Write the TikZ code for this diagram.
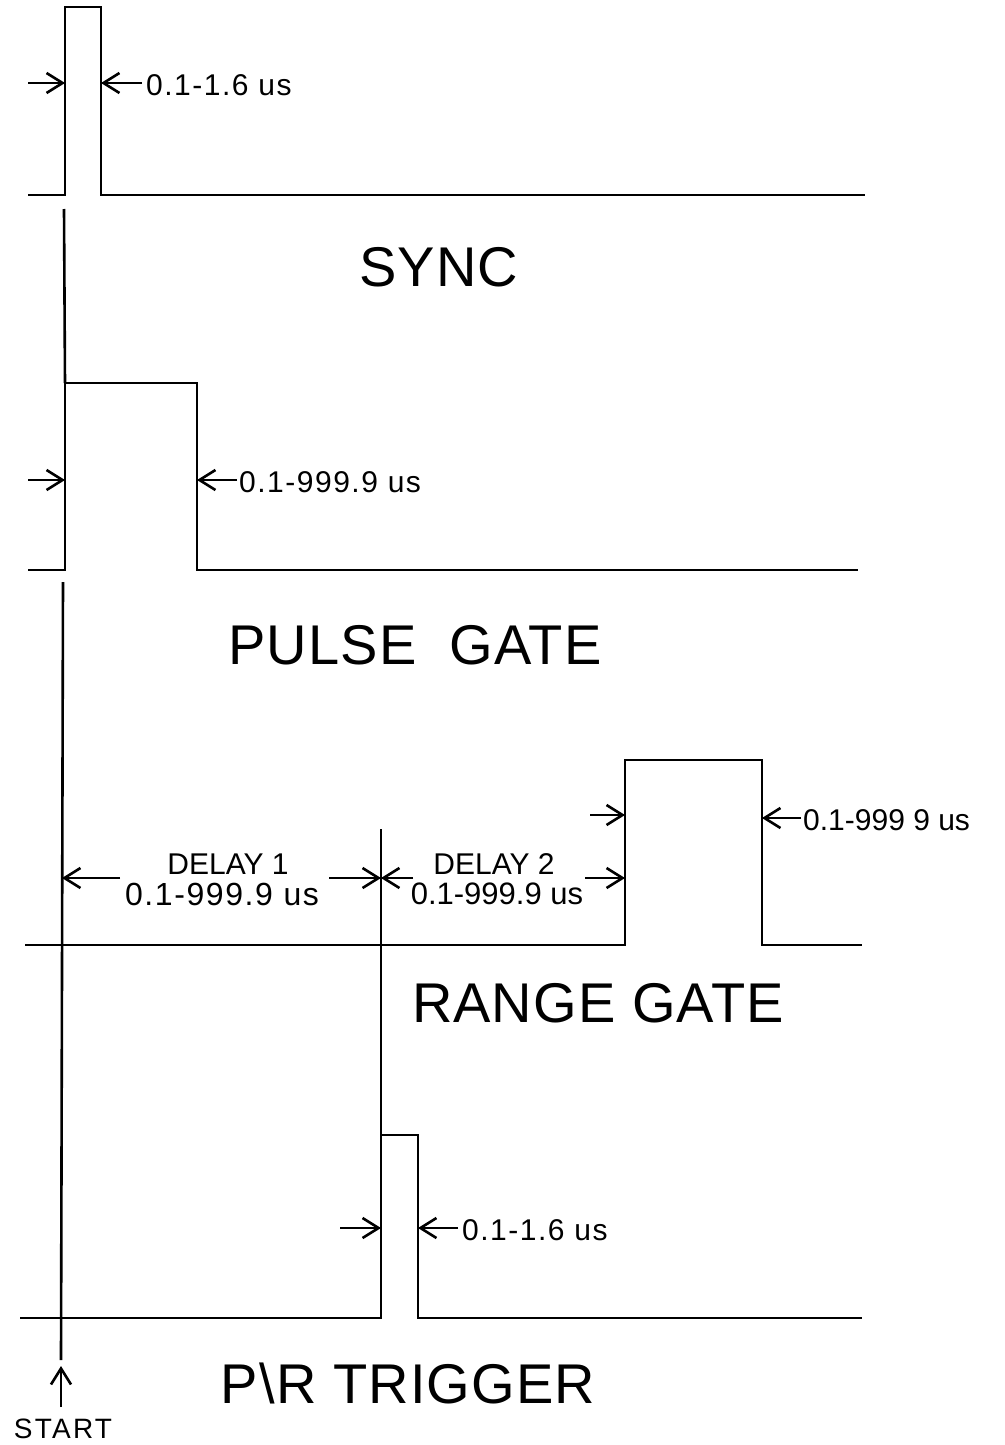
\documentclass[tikz,border=0pt]{standalone}
\usepackage{fontspec}
\setmainfont{Liberation Sans}
\newfontfamily\lblfont[LetterSpace=5]{Liberation Sans}
\newfontfamily\dnumfont[LetterSpace=5]{Liberation Sans}
\newfontfamily\bigfont[LetterSpace=2]{Liberation Sans}
\newfontfamily\startfont[LetterSpace=8]{Liberation Sans}
\usetikzlibrary{arrows.meta}
\begin{document}
\begin{tikzpicture}[x=1pt,y=-1pt,
  wave/.style={line width=2.8pt,line join=miter,line cap=butt},
  marker/.style={line width=2.6pt},
  dim/.style={line width=2.6pt,-{Straight Barb[length=16pt,width=20pt,line width=2.6pt]}},
  small/.style={font=\fontsize{30}{30}\selectfont\lblfont,inner sep=0pt,anchor=west},
  smallns/.style={font=\fontsize{30}{30}\selectfont,inner sep=0pt,anchor=west},
  dly/.style={font=\fontsize{30}{30}\selectfont,inner sep=0pt},
  dnum/.style={font=\fontsize{32}{32}\selectfont\dnumfont,inner sep=0pt},
  dnumns/.style={font=\fontsize{31}{31}\selectfont,inner sep=0pt},
  big/.style={font=\fontsize{56}{56}\selectfont\bigfont,inner sep=0pt},
  startlbl/.style={font=\fontsize{28}{28}\selectfont\startfont,inner sep=0pt}]
\useasboundingbox (0,0) rectangle (1004,1445);
% ---------- SYNC ----------
\coordinate (sL) at (28,195);
\coordinate (sR) at (65,195);
\coordinate (sRt) at (65,7);
\coordinate (sFt) at (101,7);
\coordinate (sF) at (101,195);
\coordinate (sE) at (865,195);
\draw[wave] (sL) -- (sR) -- (sRt) -- (sFt) -- (sF) -- (sE);
\coordinate (sa1) at (28,83);  \coordinate (sa1h) at (65,83);
\coordinate (sa2) at (142,83); \coordinate (sa2h) at (101,83);
\draw[dim] (sa1) -- (sa1h);
\draw[dim] (sa2) -- (sa2h);
\node[small] (synclbl) at (146,85) {0.1-1.6 us};
\node[big] (sync) at (439,267) {SYNC};
% ---------- PULSE GATE ----------
\coordinate (pL) at (28,570);
\coordinate (pR) at (65,570);
\coordinate (pRt) at (65,383);
\coordinate (pFt) at (197,383);
\coordinate (pF) at (197,570);
\coordinate (pE) at (858,570);
\draw[wave] (pL) -- (pR) -- (pRt) -- (pFt) -- (pF) -- (pE);
\coordinate (pa1) at (28,480);  \coordinate (pa1h) at (65,480);
\coordinate (pa2) at (237,480); \coordinate (pa2h) at (197,480);
\draw[dim] (pa1) -- (pa1h);
\draw[dim] (pa2) -- (pa2h);
\node[small] (pglbl) at (239,482) {0.1-999.9 us};
\node[big] (pulse) at (415,645) {PULSE\ \ GATE};
% ---------- START line ----------
\coordinate (st1) at (64,209);
\coordinate (st2) at (63,582);
\coordinate (st3) at (61,1360);
\draw[marker] (st1) -- (pRt);
\draw[marker] (st2) -- (st3);
% ---------- RANGE GATE ----------
\coordinate (rL) at (25,945);
\coordinate (rR) at (625,945);
\coordinate (rRt) at (625,760);
\coordinate (rFt) at (762,760);
\coordinate (rF) at (762,945);
\coordinate (rE) at (862,945);
\draw[wave] (rL) -- (rR) -- (rRt) -- (rFt) -- (rF) -- (rE);
\coordinate (d1s) at (62,878);
\coordinate (d1a) at (120,878);
\coordinate (d1b) at (329,878);
\coordinate (dm) at (381,878);
\coordinate (d2a) at (413,878);
\coordinate (d2b) at (585,878);
\coordinate (d2e) at (625,878);
\draw[dim] (d1a) -- (d1s);
\draw[dim] (d1b) -- (dm);
\draw[dim] (d2a) -- (dm);
\draw[dim] (d2b) -- (d2e);
\coordinate (ra1) at (590,815); \coordinate (ra1h) at (625,815);
\coordinate (ra2) at (801,818); \coordinate (ra2h) at (762,818);
\draw[dim] (ra1) -- (ra1h);
\draw[dim] (ra2) -- (ra2h);
\node[smallns] (rglbl) at (803,820) {0.1-999 9 us};
\node[dly] (delay1) at (228,864) {DELAY 1};
\node[dnum] (delay1n) at (222,894) {0.1-999.9 us};
\node[dly] (delay2) at (494,864) {DELAY 2};
\node[dnumns] (delay2n) at (497,894) {0.1-999.9 us};
\node[big] (range) at (598,1003) {RANGE GATE};
% ---------- P\R TRIGGER ----------
\coordinate (tm) at (381,829);
\coordinate (tL) at (20,1318);
\coordinate (tR) at (381,1318);
\coordinate (tRt) at (381,1135);
\coordinate (tFt) at (418,1135);
\coordinate (tF) at (418,1318);
\coordinate (tE) at (862,1318);
\draw[marker] (tm) -- (tRt);
\draw[wave] (tL) -- (tR) -- (tRt) -- (tFt) -- (tF) -- (tE);
\coordinate (ta1) at (340,1228); \coordinate (ta1h) at (381,1228);
\coordinate (ta2) at (458,1228); \coordinate (ta2h) at (418,1228);
\draw[dim] (ta1) -- (ta1h);
\draw[dim] (ta2) -- (ta2h);
\node[small] (prlbl) at (462,1230) {0.1-1.6 us};
\node[big] (trigger) at (408,1383) {P\textbackslash R TRIGGER};
% ---------- START ----------
\coordinate (sta) at (61,1407);
\coordinate (stah) at (61,1366);
\draw[dim] (sta) -- (stah);
\node[startlbl] (start) at (63,1429) {START};
\end{tikzpicture}
\end{document}
